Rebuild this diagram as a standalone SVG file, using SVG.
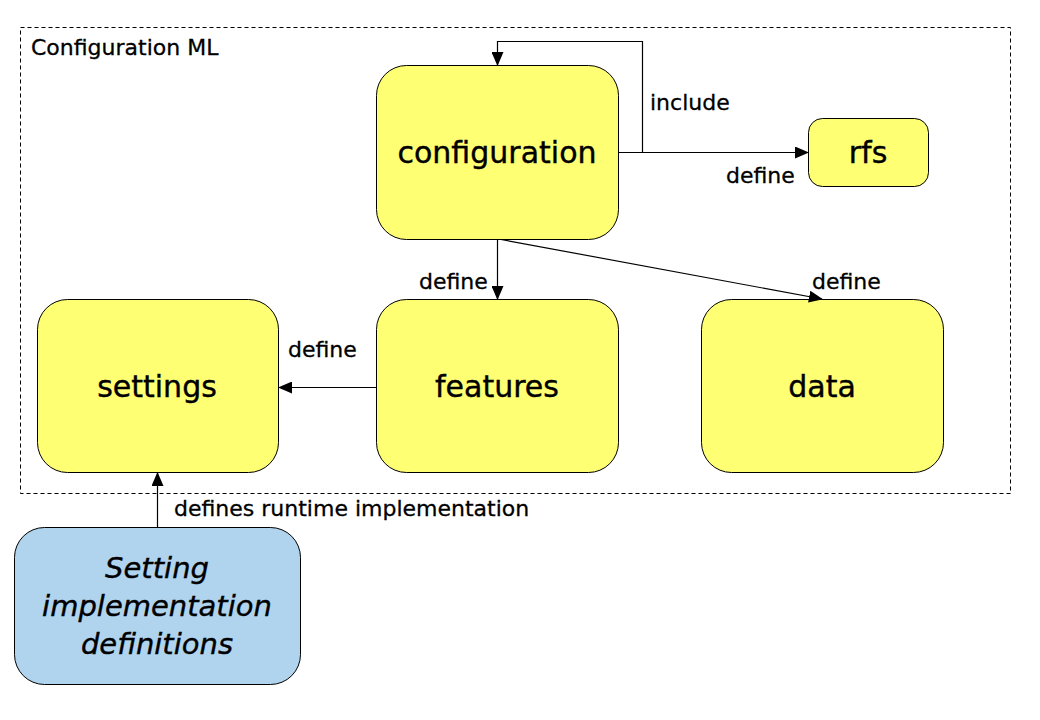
<svg xmlns="http://www.w3.org/2000/svg" width="1040" height="720" viewBox="0 0 1040 720">
<defs>
<marker id="arr" markerWidth="14" markerHeight="12" refX="13" refY="6" orient="auto" markerUnits="userSpaceOnUse">
<path d="M0,0 L14,6 L0,12 Z" fill="#000"/>
</marker>
<style>
.node{fill:#ffff73;stroke:#000;stroke-width:1}
.blue{fill:#b0d4ee;stroke:#000;stroke-width:1}
.big{font-family:"DejaVu Sans",sans-serif;font-size:30px;text-anchor:middle;fill:#000;stroke:#000;stroke-width:0.4}
.ital{font-size:29px;font-style:italic}
.lbl{font-family:"DejaVu Sans",sans-serif;font-size:22px;fill:#000;stroke:#000;stroke-width:0.3}
.edge{fill:none;stroke:#000;stroke-width:1.2}
</style>
</defs>
<rect x="0" y="0" width="1040" height="720" fill="#fff"/>
<g id="frame">
<rect x="20.5" y="27.5" width="990" height="466" fill="none" stroke="#000" stroke-width="1" stroke-dasharray="4,3"/>
<text class="lbl" x="31" y="55" font-size="19.5">Configuration ML</text>
</g>
<g id="configuration">
<rect class="node" x="376.5" y="65.5" width="242" height="174" rx="30"/>
<text class="big" x="497" y="163">configuration</text>
</g>
<g id="rfs">
<rect class="node" x="808.5" y="118.5" width="120" height="68" rx="14"/>
<text class="big" x="868" y="163">rfs</text>
</g>
<g id="settings">
<rect class="node" x="37.5" y="299.5" width="241" height="173" rx="30"/>
<text class="big" x="157" y="397">settings</text>
</g>
<g id="features">
<rect class="node" x="376.5" y="299.5" width="242" height="173" rx="30"/>
<text class="big" x="497" y="397">features</text>
</g>
<g id="data">
<rect class="node" x="701.5" y="299.5" width="242" height="173" rx="30"/>
<text class="big" x="822" y="397">data</text>
</g>
<g id="setting-impl">
<rect class="blue" x="14.5" y="527.5" width="286" height="157" rx="30"/>
<text class="big ital" x="157" y="578">Setting</text>
<text class="big ital" x="157" y="616">implementation</text>
<text class="big ital" x="157" y="654">definitions</text>
</g>
<g id="connectors">
<path class="edge" d="M642.5,152.5 V41.5 H497.5 V65" marker-end="url(#arr)"/>
<text class="lbl" x="650" y="110">include</text>
<path class="edge" d="M618.5,152.5 H808" marker-end="url(#arr)"/>
<text class="lbl" x="726" y="183">define</text>
<path class="edge" d="M497.5,239.5 V299" marker-end="url(#arr)"/>
<text class="lbl" x="419" y="289">define</text>
<path class="edge" d="M501,239.5 L822,299" marker-end="url(#arr)"/>
<text class="lbl" x="812" y="289">define</text>
<path class="edge" d="M376.5,387.5 H279" marker-end="url(#arr)"/>
<text class="lbl" x="288" y="357">define</text>
<path class="edge" d="M157.5,527.5 V473" marker-end="url(#arr)"/>
<text class="lbl" x="174" y="516">defines runtime implementation</text>
</g>
</svg>
